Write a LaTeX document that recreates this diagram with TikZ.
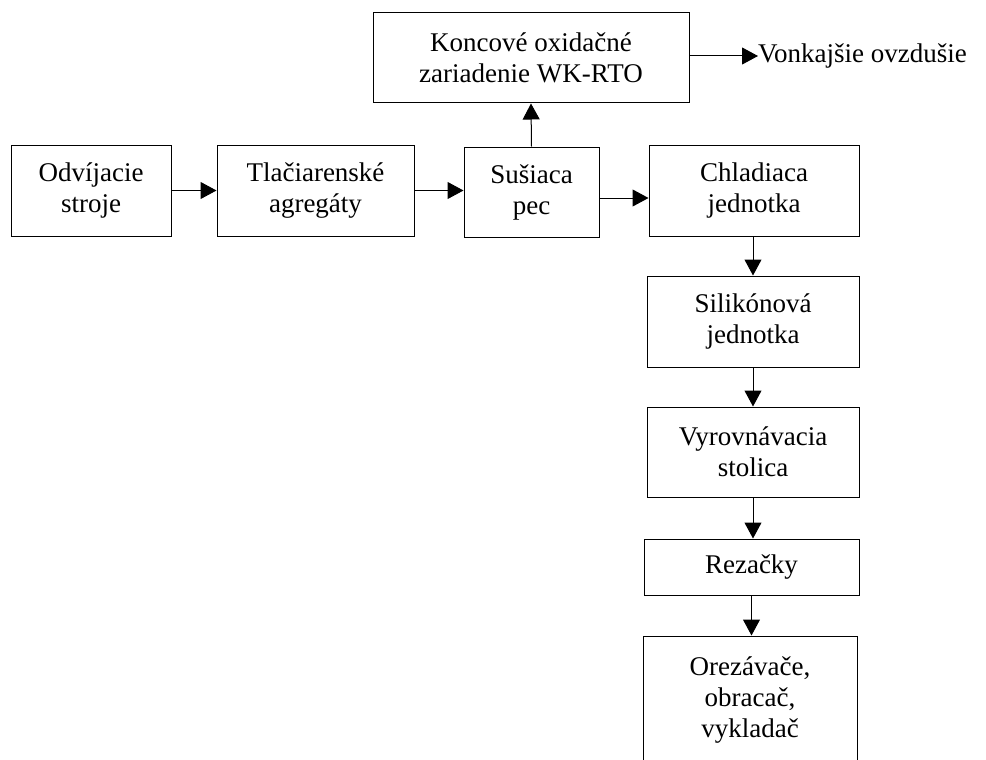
\documentclass[tikz,border=0pt]{standalone}
\usepackage{fontspec}
\setmainfont{Liberation Serif}
\usetikzlibrary{arrows.meta}
\tikzset{
  blok/.style={draw,line width=1pt,align=center,inner sep=0pt,
    font=\fontsize{27}{31}\selectfont},
  sipka/.style={line width=1pt,-{Triangle[length=16pt,width=17pt]}}
}
\begin{document}
\begin{tikzpicture}[x=1pt,y=-1pt]
    \useasboundingbox (0,0) rectangle (986,760);
    %% top row
    \node[blok,minimum width=160pt,minimum height=91pt] (odv) at (91,190.5) {Odvíjacie\\stroje};
    \node[blok,minimum width=197pt,minimum height=91pt] (tla) at (315.5,190.5) {Tlačiarenské\\agregáty};
    \node[blok,minimum width=135pt,minimum height=90pt] (sus) at (531.5,192) {Sušiaca\\pec};
    \node[blok,minimum width=210pt,minimum height=91pt] (chl) at (754,190.5) {Chladiaca\\jednotka};
    %% oxidation unit
    \node[blok,minimum width=316pt,minimum height=90pt] (kon) at (531,58) {Koncové oxidačné\\zariadenie WK-RTO};
    \node[anchor=west,inner sep=0pt,font=\fontsize{27}{31}\selectfont] (vonk) at (758,56) {Vonkajšie ovzdušie};
    %% right column
    \node[blok,minimum width=212pt,minimum height=91pt] (sil) at (753,321.5) {Silikónová\\jednotka};
    \node[blok,minimum width=212pt,minimum height=90pt] (vyr) at (753,452) {Vyrovnávacia\\stolica};
    \node[blok,minimum width=215pt,minimum height=56pt] (rez) at (751.5,567) {Rezačky};
    \node[blok,minimum width=214pt,minimum height=128pt] (ore) at (750,700) {Orezávače,\\obracač,\\vykladač};
    %% arrows
    \draw[sipka] (odv.east) -- (tla.west);
    \draw[sipka] (tla.east) -- (tla.east -| sus.west);
    \draw[sipka] ([yshift=-6pt]sus.east) -- ([yshift=-6pt]sus.east -| chl.west);
    \draw[sipka] (sus.north) -- (kon.south);
    \draw[sipka] (kon.east |- vonk.west) -- (vonk.west);
    \draw[sipka] (chl.south -| sil.north) -- (sil.north);
    \draw[sipka] (sil.south) -- (vyr.north);
    \draw[sipka] (vyr.south) -- (vyr.south |- rez.north);
    \draw[sipka] (rez.south) -- (rez.south |- ore.north);
\end{tikzpicture}
\end{document}
